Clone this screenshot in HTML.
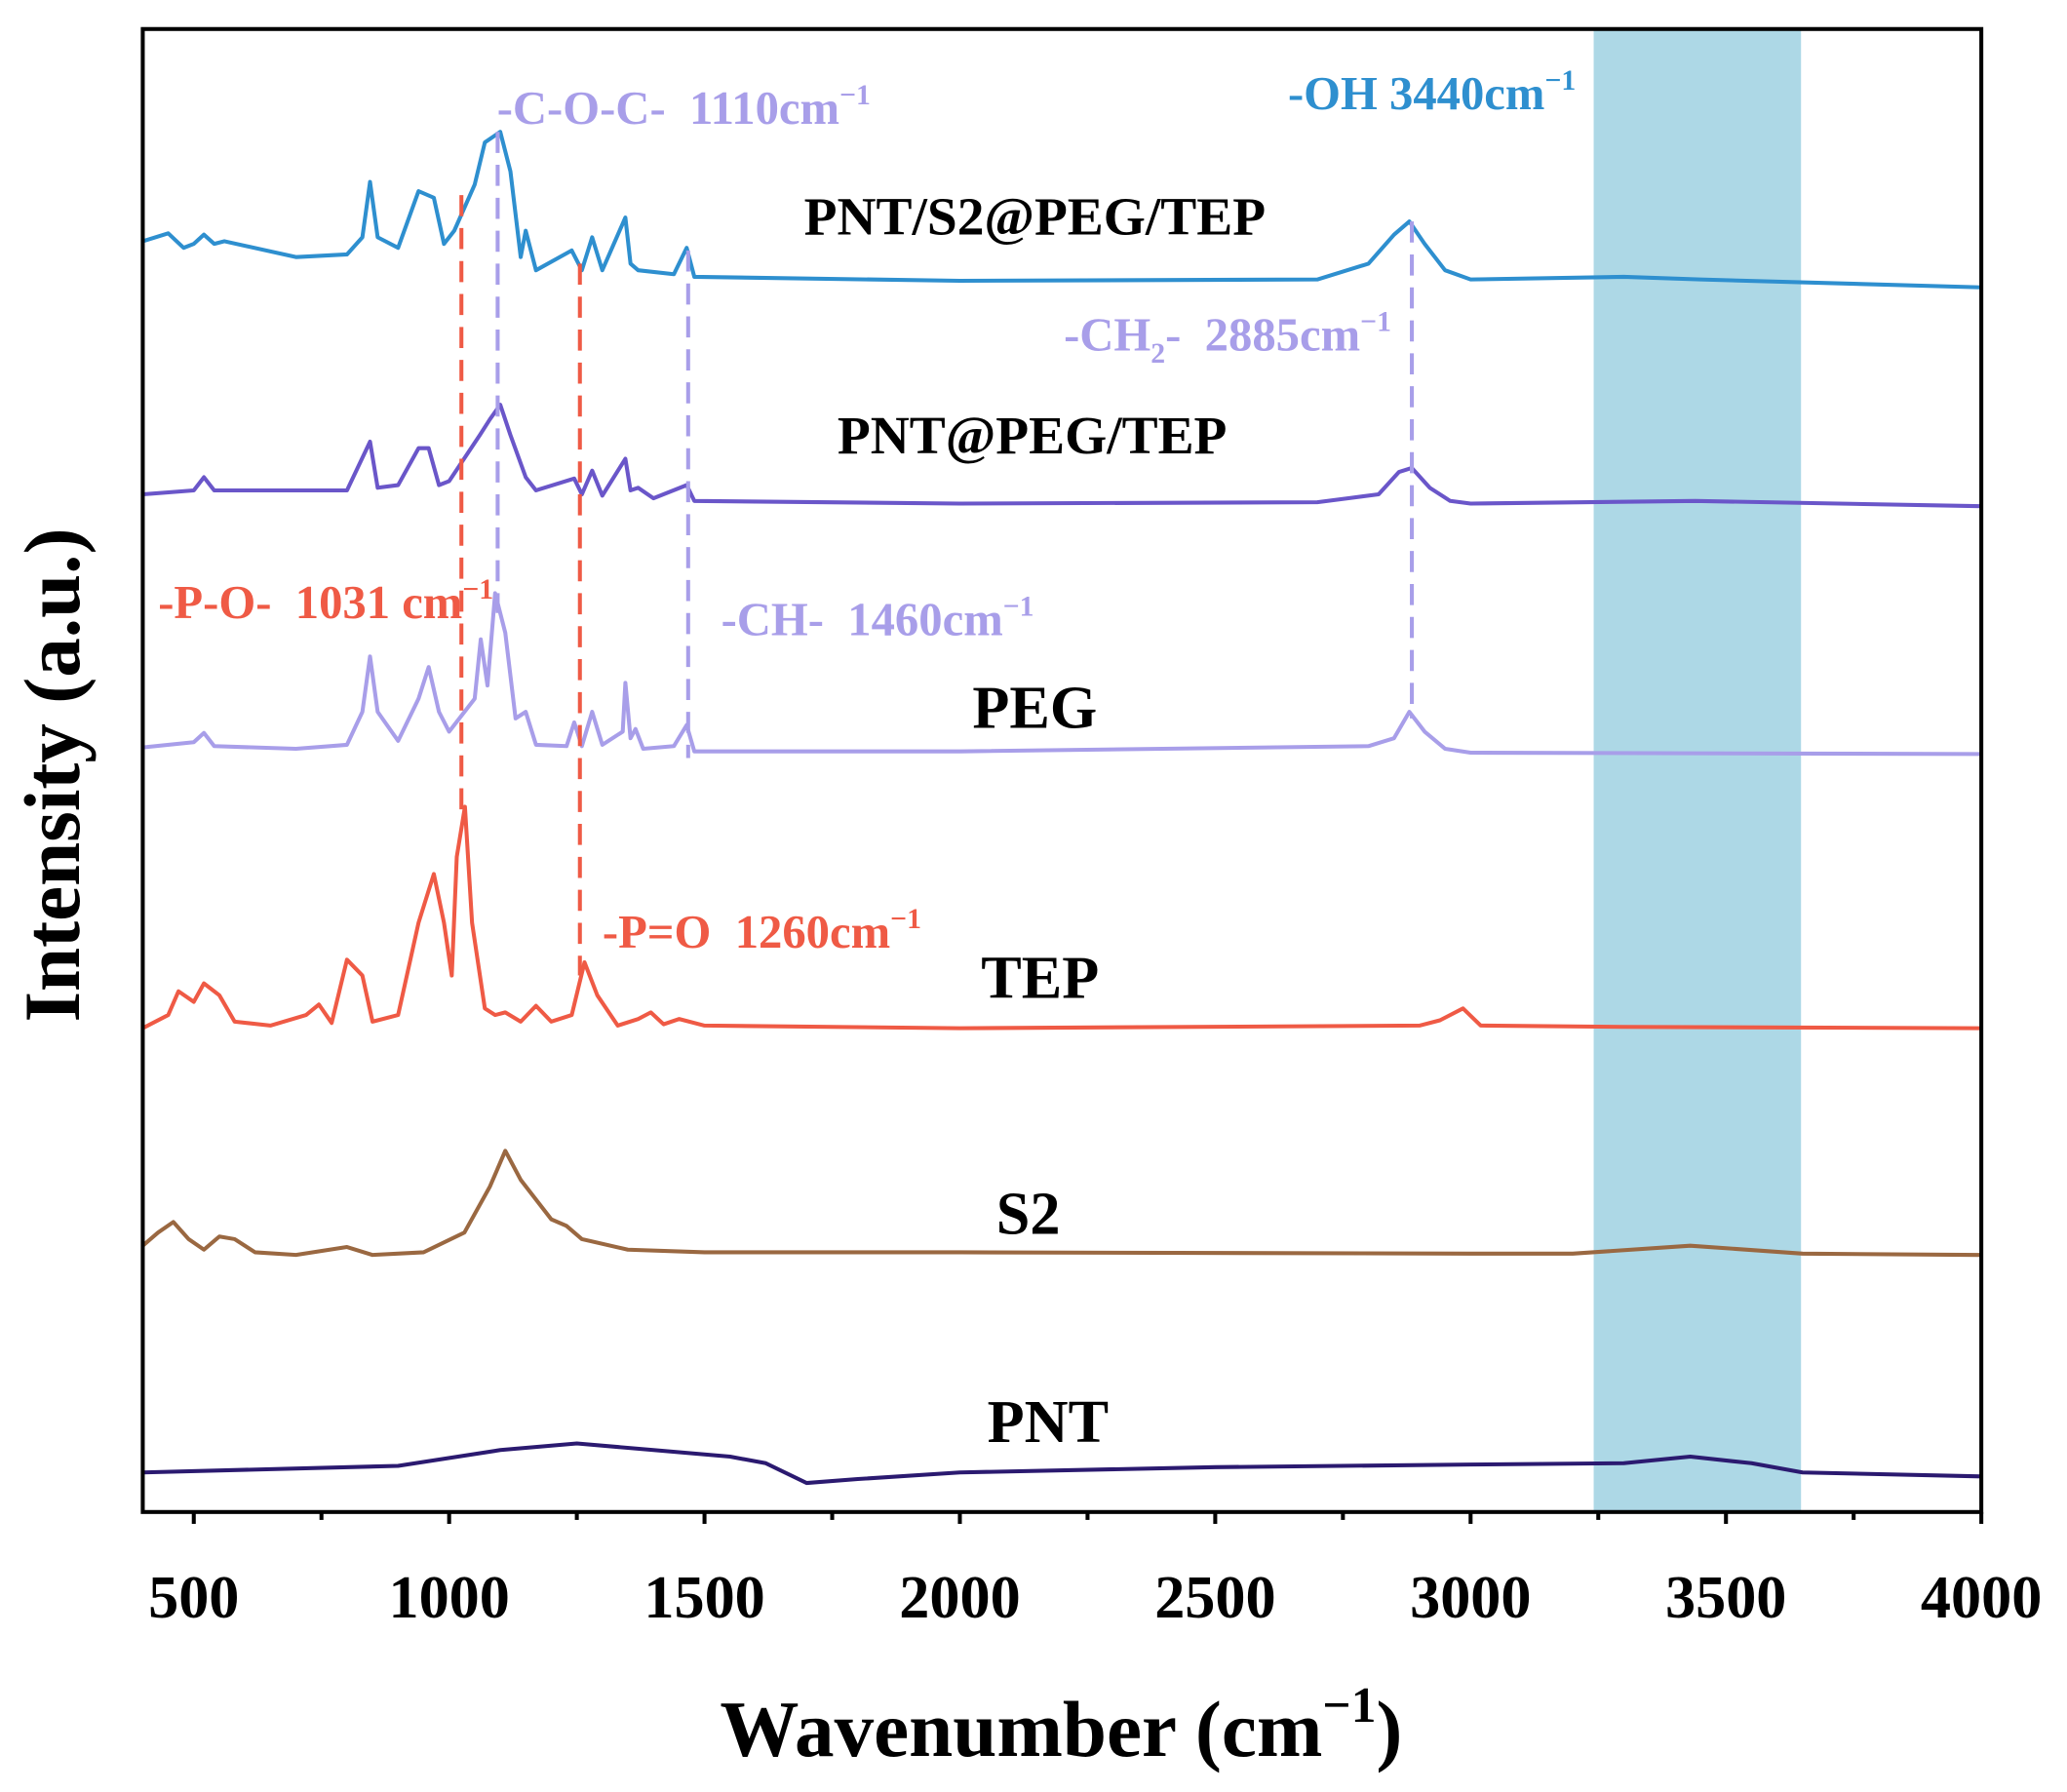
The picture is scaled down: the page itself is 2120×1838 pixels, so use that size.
<!DOCTYPE html>
<html><head><meta charset="utf-8"><style>
html,body{margin:0;padding:0;background:#fff;}
svg{display:block;}
text{font-family:"Liberation Serif",serif;font-weight:bold;white-space:pre;}
</style></head><body>
<svg id="chart" width="2120" height="1838" viewBox="0 0 1568 1359.4" xmlns="http://www.w3.org/2000/svg">
<g id="shade"></g><g id="marks"></g><g id="dashes"></g><g id="axes"></g><g id="labels"></g>
</svg>
<script>
const xTicks=[500,1000,1500,2000,2500,3000,3500,4000];
const shadeRange=[3241,3647];
const pntX=[400,900,1100,1250,1400,1550,1620,1700,1800,2000,2500,3000,3300,3430,3550,3650,4000];
const pntY=[30,35,47,52,47,42,37,22,25,30,34,36,37,42,37,30,27];
const s2X=[400,430,460,490,520,550,580,620,700,800,850,950,1030,1080,1110,1140,1200,1230,1260,1350,1500,2000,3000,3200,3430,3650,4000];
const s2Px=[945,935,927,940,948,938,940,950,952,946,952,950,935,900,873,895,925,930,940,948,950,950,951,951,945,951,952];
const tepX=[400,450,470,500,520,550,580,650,720,745,770,800,830,850,900,940,970,990,1005,1015,1031,1045,1070,1090,1110,1140,1170,1200,1240,1265,1290,1330,1370,1395,1420,1450,1500,2000,2900,2940,2985,3020,3300,4000];
const tepPx=[780,770,752,760,746,755,775,778,770,762,776,728,740,775,770,700,663,700,740,650,612,700,765,770,768,775,763,775,770,730,755,778,773,768,777,773,778,780,778,774,765,778,779,780];
const pegX=[400,500,520,540,700,800,830,845,860,900,940,960,980,1000,1050,1062,1075,1090,1110,1130,1150,1170,1230,1245,1260,1280,1300,1340,1345,1355,1365,1380,1440,1465,1480,2000,2800,2850,2880,2910,2950,3000,4000];
const pegPx=[567,563,556,566,568,565,540,498,540,562,530,506,540,555,530,485,520,450,480,545,540,565,566,548,566,540,565,555,518,560,553,568,566,550,570,570,566,560,540,555,568,571,572];
const mixX=[400,500,520,540,800,845,860,900,940,960,980,1000,1060,1080,1100,1120,1150,1170,1245,1260,1280,1300,1345,1355,1370,1400,1465,1480,2000,2700,2820,2860,2885,2920,2960,3000,3440,4000];
const mixPx=[375,372,362,372,372,335,370,368,340,340,368,365,330,318,307,330,362,372,363,375,357,376,348,372,370,378,368,380,382,381,375,358,355,370,380,382,380,384];
const fullX=[400,450,480,500,520,540,560,700,800,830,845,860,900,940,970,990,1010,1050,1070,1100,1120,1140,1150,1170,1240,1260,1280,1300,1345,1355,1370,1440,1465,1480,2000,2700,2800,2850,2880,2910,2950,3000,3300,3450,4000];
const fullPx=[183,177,188,185,178,185,183,195,193,180,138,180,188,145,150,185,175,140,108,100,130,195,175,205,190,205,180,205,165,200,205,208,188,210,213,212,200,178,168,185,205,212,210,212,218];
const NS='http://www.w3.org/2000/svg';
const X0=108.3,X1=1503,Y0=1147,YT=22;
function sx(w){return 147+(w-500)*0.38743;}
function sy(v){return Y0-v;}
function pxToVal(p){return Y0-p;}
function mk(tag,attrs,parent){const e=document.createElementNS(NS,tag);for(const k in attrs)e.setAttribute(k,attrs[k]);parent.appendChild(e);return e;}
const shade=document.getElementById('shade'),marks=document.getElementById('marks'),dashes=document.getElementById('dashes'),axes=document.getElementById('axes');
let r=mk('rect',{x:sx(shadeRange[0]),y:YT,width:sx(shadeRange[1])-sx(shadeRange[0]),height:Y0-YT,fill:'#add8e6'},shade);


const series=[
 ['pnt-line',pntX,pntY,'#2b1a70',false],
 ['s2-line',s2X,s2Px,'#9a6841',true],
 ['tep-line',tepX,tepPx,'#ef5a45',true],
 ['peg-line',pegX,pegPx,'#a89ee9',true],
 ['pnt-peg-tep-line',mixX,mixPx,'#6a56c9',true],
 ['pnt-s2-peg-tep-line',fullX,fullPx,'#2e8fcf',true]];
series.forEach(s=>{
 const xs=s[1],ys=s[2];let d='';
 for(let i=0;i<xs.length;i++){const v=s[4]?pxToVal(ys[i]):ys[i];d+=(i?'L':'M')+sx(xs[i]).toFixed(1)+','+sy(v).toFixed(1);}
 const p=mk('path',{d:d,fill:'none',stroke:s[3],'stroke-width':3,'stroke-linejoin':'round'},marks);
 
 
});
const dashLines=[[1024,148,620,'#ef5a45','dash-1031'],[1256,200,740,'#ef5a45','dash-1260'],[1095,100,465,'#a89ee9','dash-1110'],[1468,190,575,'#a89ee9','dash-1460'],[2885,168,545,'#a89ee9','dash-2885']];
dashLines.forEach(dl=>{const l=mk('line',{x1:sx(dl[0]),x2:sx(dl[0]),y1:dl[1],y2:dl[2],stroke:dl[3],'stroke-width':3,'stroke-dasharray':'16,9'},dashes);
 
 });
let fr=mk('rect',{x:X0,y:YT,width:X1-X0,height:Y0-YT,fill:'none',stroke:'#000','stroke-width':3},axes);


for(let w=500;w<=4000;w+=250){const maj=w%500===0;mk('line',{x1:sx(w),x2:sx(w),y1:Y0,y2:Y0+(maj?9:6),stroke:'#000','stroke-width':3},axes);}
xTicks.forEach(t=>{const tx=mk('text',{x:sx(t),y:Y0+80,'font-size':46,'text-anchor':'middle'},axes);tx.textContent=t;
 
 });
</script>
<svg style="position:absolute;left:0;top:0" width="2120" height="1838" viewBox="0 0 1568 1359.4" xmlns="http://www.w3.org/2000/svg">
<text x="805" y="1332" font-size="60" text-anchor="middle">Wavenumber (cm<tspan font-size="38" dy="-26">−1</tspan><tspan dy="26">)</tspan></text>
<text transform="translate(60,588) rotate(-90)" font-size="60" text-anchor="middle">Intensity (a.u.)</text>
<text x="785" y="178" font-size="41" text-anchor="middle">PNT/S2@PEG/TEP</text>
<text x="783" y="344" font-size="41" text-anchor="middle">PNT@PEG/TEP</text>
<text x="785" y="552" font-size="46" text-anchor="middle">PEG</text>
<text x="789" y="757" font-size="46" text-anchor="middle">TEP</text>
<text x="780" y="936" font-size="46" text-anchor="middle">S2</text>
<text x="795" y="1094" font-size="46" text-anchor="middle">PNT</text>
<text x="377" y="94" font-size="36" fill="#a89ee9">-C-O-C-  1110cm<tspan font-size="22" dy="-15">−1</tspan></text>
<text x="977" y="83" font-size="36" fill="#2e8fcf">-OH 3440cm<tspan font-size="22" dy="-15">−1</tspan></text>
<text x="807" y="266" font-size="36" fill="#a89ee9">-CH<tspan font-size="22" dy="9">2</tspan><tspan dy="-9">-  2885cm</tspan><tspan font-size="22" dy="-15">−1</tspan></text>
<text x="120" y="469" font-size="36" fill="#ef5a45">-P-O-  1031 cm<tspan font-size="22" dy="-15">−1</tspan></text>
<text x="547" y="482" font-size="36" fill="#a89ee9">-CH-  1460cm<tspan font-size="22" dy="-15">−1</tspan></text>
<text x="457" y="719" font-size="36" fill="#ef5a45">-P=O  1260cm<tspan font-size="22" dy="-15">−1</tspan></text>
</svg>
</body></html>
